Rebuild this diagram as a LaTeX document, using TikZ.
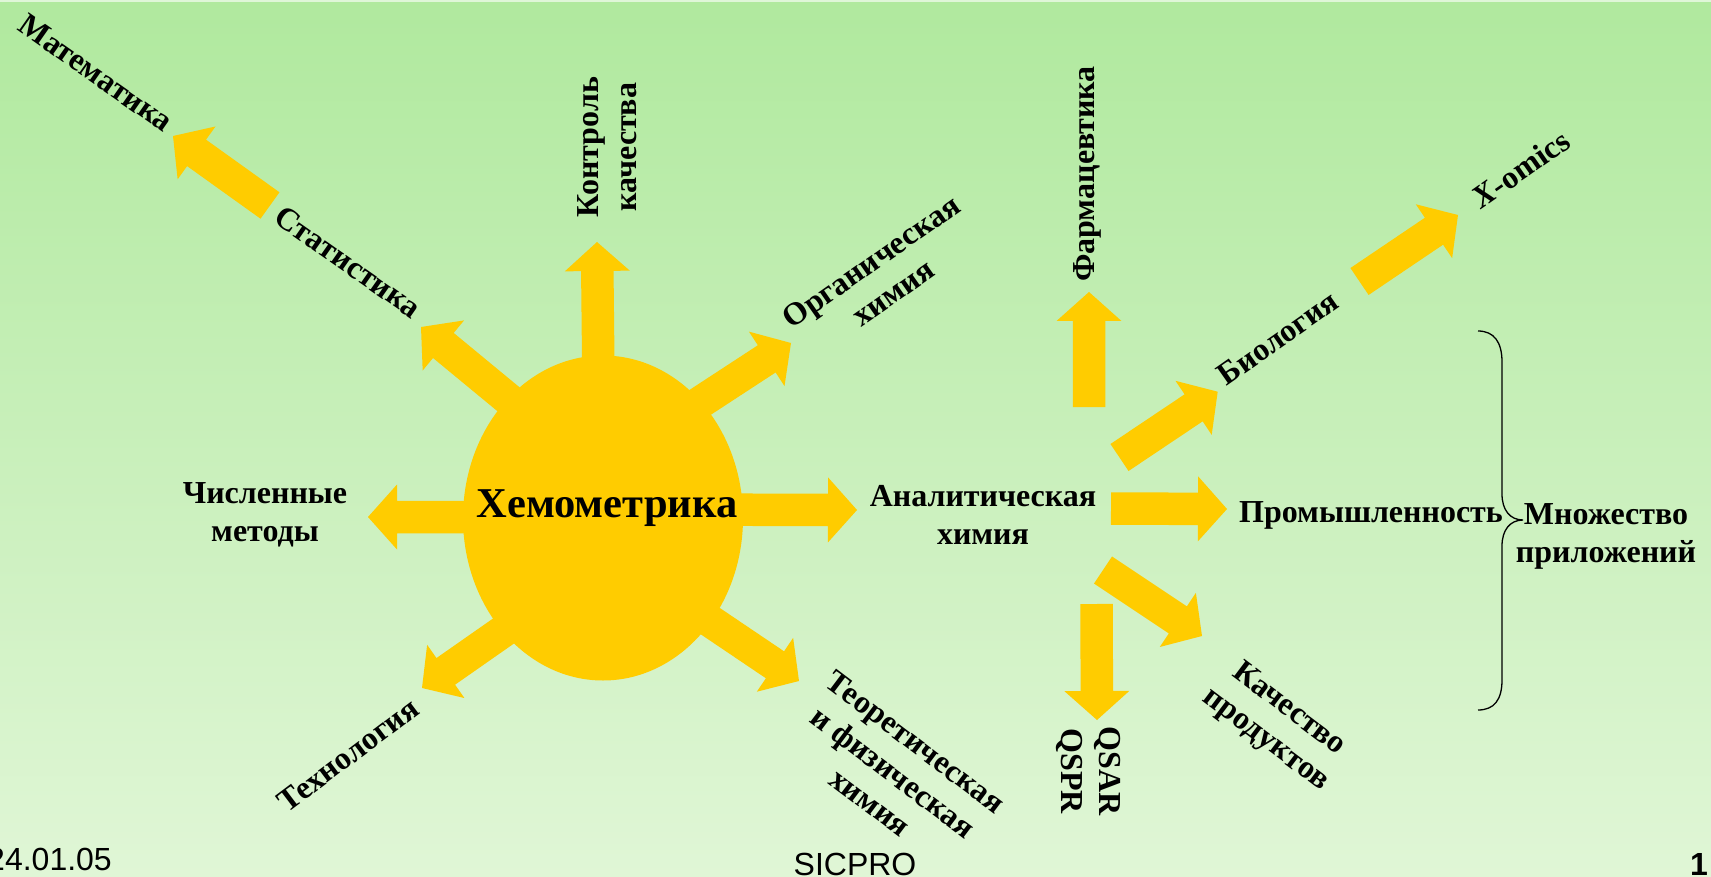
\documentclass[tikz,border=0pt]{standalone}
\usepackage{fontspec}
\setmainfont{Liberation Serif}
\newfontfamily\arialfont{Liberation Sans}
\usetikzlibrary{shapes.geometric,calc}
\definecolor{sun}{RGB}{255,204,0}
\definecolor{bgtop}{RGB}{176,233,158}
\definecolor{bgbot}{RGB}{224,246,214}
\newcommand{\blockarrow}[2]{%
  \coordinate (baH) at ($(#2)!29pt!(#1)$);
  \fill[sun] ($(#1)!16.25pt!90:(#2)$) -- ($(baH)!16.25pt!90:(#2)$) -- ($(baH)!32.5pt!90:(#2)$) -- (#2)
    -- ($(baH)!32.5pt!-90:(#2)$) -- ($(baH)!16.25pt!-90:(#2)$) -- ($(#1)!16.25pt!-90:(#2)$) -- cycle;
}
\begin{document}
\begin{tikzpicture}[x=1pt,y=-1pt,
  lbl/.style={font=\bfseries\fontsize{32}{38}\selectfont, align=center, inner sep=0pt},
  foot/.style={font=\arialfont\fontsize{32}{38}\selectfont, inner sep=0pt}]
\useasboundingbox (0,0) rectangle (1711,877);
\fill[top color=bgtop, bottom color=bgbot] (0,0) rectangle (1711,877);
\fill[white!60!bgtop] (0,0) rectangle (1711,2);

% arrow end points
\coordinate (sT) at (530,417);   \coordinate (sP) at (421,327);
\coordinate (mT) at (270,205.5); \coordinate (mP) at (173,136);
\coordinate (cT) at (599,430);   \coordinate (cP) at (597,242);
\coordinate (oT) at (665.5,425); \coordinate (oP) at (791,343);
\coordinate (nT) at (560,517);   \coordinate (nP) at (368,517);
\coordinate (tT) at (545,602);   \coordinate (tP) at (422,688);
\coordinate (hT) at (674.5,597); \coordinate (hP) at (799,681);
\coordinate (aT) at (650,509.5); \coordinate (aP) at (857,510);
\coordinate (fT) at (1089,407);  \coordinate (fP) at (1089,292);
\coordinate (bT) at (1119.5,457.5); \coordinate (bP) at (1217.7,391.7);
\coordinate (xT) at (1359.5,281.5); \coordinate (xP) at (1458,215);
\coordinate (iT) at (1111,508.5); \coordinate (iP) at (1227,509);
\coordinate (qT) at (1103,570);  \coordinate (qP) at (1202,636);
\coordinate (rT) at (1096.5,604); \coordinate (rP) at (1097,720);

\blockarrow{sT}{sP}
\blockarrow{mT}{mP}
\blockarrow{cT}{cP}
\blockarrow{oT}{oP}
\blockarrow{nT}{nP}
\blockarrow{tT}{tP}
\blockarrow{hT}{hP}
\blockarrow{aT}{aP}
\blockarrow{fT}{fP}
\blockarrow{bT}{bP}
\blockarrow{xT}{xP}
\blockarrow{iT}{iP}
\blockarrow{qT}{qP}
\blockarrow{rT}{rP}

\node[ellipse, fill=sun, minimum width=280pt, minimum height=325pt, inner sep=0pt] (chemo) at (603,518) {};
\node[font=\bfseries\fontsize{42.5}{50}\selectfont, anchor=base, inner sep=0pt] (chemoText) at (607,517) {Хемометрика};

\node[lbl, rotate=-35] (math) at (96,73) {Математика};
\node[lbl, rotate=-35] (stat) at (348,262) {Статистика};
\node[lbl, rotate=90] (ctrl) at (607,147) {Контроль\\качества};
\node[lbl, rotate=35] (org) at (882,277) {Органическая\\химия};
\node[lbl] (num) at (265,515) {Численные\\методы};
\node[lbl, rotate=37] (tech) at (348,755) {Технология};
\node[lbl, rotate=-37] (theo) at (893,772) {Теоретическая\\и физическая\\химия};
\node[lbl] (anal) at (983,515) {Аналитическая\\химия};
\node[lbl, rotate=90] (pharm) at (1087,174) {Фармацевтика};
\node[lbl, rotate=35] (bio) at (1278,338) {Биология};
\node[lbl, rotate=35] (xom) at (1521,169) {\textit{X}-omics};
\node[lbl, anchor=base] (ind) at (1371,522) {Промышленность};
\node[lbl] (many) at (1606,536) {Множество\\приложений};
\node[lbl, rotate=-37] (qual) at (1277,725) {Качество\\продуктов};
\node[lbl, rotate=-90] (qsar) at (1088,771) {QSAR\\QSPR};

% brace
\draw[line width=1.3pt] (1478,331) .. controls (1494,331) and (1502,342) .. (1502,362)
  -- (1502,494) .. controls (1502,510) and (1510,520) .. (1523,520)
  .. controls (1510,520) and (1502,530) .. (1502,546)
  -- (1502,680) .. controls (1502,700) and (1494,710) .. (1478,710);

\node[foot, anchor=base east] (date) at (112,870) {24.01.05};
\node[foot, anchor=base] (sic) at (855,875) {SICPRO};
\node[foot, font=\arialfont\bfseries\fontsize{32}{38}\selectfont, anchor=base west] (pg) at (1690,875) {1};
\end{tikzpicture}
\end{document}
